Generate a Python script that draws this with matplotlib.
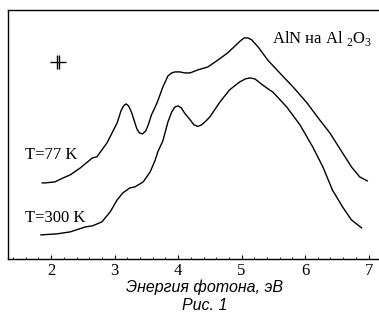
import numpy as np
import matplotlib.pyplot as plt

plt.rcParams["mathtext.fontset"] = "custom"
plt.rcParams["mathtext.rm"] = "Liberation Serif"

# спектры поглощения AlN на сапфире, отн. ед.
energy_77 = [1.86, 1.91, 2.06, 2.19, 2.30, 2.46, 2.65, 2.72, 2.88, 3.04, 3.10, 3.14,
             3.18, 3.22, 3.27, 3.31, 3.35, 3.39, 3.44, 3.49, 3.53, 3.58, 3.64, 3.68,
             3.76, 3.84, 3.90, 3.95, 4.03, 4.10, 4.19, 4.31, 4.47, 4.63, 4.78, 4.93,
             4.98, 5.04, 5.10, 5.16, 5.26, 5.41, 5.60, 5.81, 6.03, 6.23, 6.39, 6.54,
             6.73, 6.86, 6.98]
signal_77 = [7.6, 7.6, 7.7, 8.1, 8.4, 9.1, 10.1, 10.2, 11.6, 13.6, 14.8, 15.3,
             15.5, 15.3, 14.6, 13.8, 13.0, 12.6, 12.5, 12.8, 13.4, 14.4, 15.2, 15.8,
             17.2, 18.3, 18.6, 18.7, 18.7, 18.6, 18.6, 18.9, 19.2, 19.9, 20.6, 21.5,
             21.8, 22.1, 22.1, 21.9, 21.2, 19.9, 18.6, 17.2, 15.6, 13.9, 12.6, 11.1,
             9.2, 8.2, 7.8]

energy_300 = [1.84, 2.09, 2.30, 2.54, 2.65, 2.80, 2.93, 3.04, 3.13, 3.24, 3.32, 3.45,
              3.56, 3.64, 3.68, 3.76, 3.84, 3.90, 3.95, 4.00, 4.05, 4.10, 4.19, 4.25,
              4.31, 4.37, 4.44, 4.50, 4.66, 4.81, 4.97, 5.06, 5.13, 5.21, 5.33, 5.44,
              5.49, 5.71, 5.92, 6.12, 6.28, 6.43, 6.59, 6.73, 6.89]
signal_300 = [2.4, 2.5, 2.7, 3.2, 3.3, 3.7, 4.7, 5.9, 6.6, 7.1, 7.2, 7.7,
              8.7, 9.9, 10.7, 11.8, 13.7, 14.7, 15.2, 15.3, 15.1, 14.6, 13.9, 13.4,
              13.25, 13.4, 13.8, 14.2, 15.7, 16.9, 17.7, 18.0, 18.1, 18.0, 17.4, 16.9,
              16.7, 15.2, 13.4, 11.2, 9.2, 6.9, 5.2, 3.9, 3.1]

xticks = [2, 3, 4, 5, 6, 7]
mark_pos = (2.11, 19.7)  # значок погрешности

fig = plt.figure(figsize=(3.79, 3.2), dpi=100)
ax = fig.add_axes([0.021, 0.191, 0.985, 0.778])

ax.plot(energy_77, signal_77, color="black", lw=1.0)
ax.plot(energy_300, signal_300, color="black", lw=1.0)

# крестик погрешности
ax.plot([mark_pos[0]], [mark_pos[1]], marker="_", ms=12, mew=1.0, color="black")
ax.plot([mark_pos[0] - 0.015, mark_pos[0] + 0.015], [mark_pos[1]] * 2,
        ls="none", marker="|", ms=10, mew=1.0, color="black")

serif = "Liberation Serif"
ax.text(1.59, 10.4, "T=77 K", family=serif, fontsize=12, va="center")
ax.text(1.59, 4.1, "T=300 K", family=serif, fontsize=12, va="center")
ax.text(7.06, 21.6, r"AlN на Al $_{2}$O$_{3}$", family=serif, fontsize=12,
        ha="right", va="baseline")

ax.set_xlim(1.32, 7.16)
ax.set_ylim(0, 24.9)
ax.set_xticks(xticks)
ax.set_xticks(np.arange(1.4, 7.2, 0.2), minor=True)
ax.set_xticklabels([str(t) for t in xticks], family=serif, fontsize=12)
ax.set_yticks([])
ax.tick_params(axis="x", which="major", direction="in", length=3, width=0.8, pad=3)
ax.tick_params(axis="x", which="minor", direction="in", length=1.5, width=0.6)
ax.spines["right"].set_visible(False)
for s in ["left", "top", "bottom"]:
    ax.spines[s].set_linewidth(1.0)

# подписи под осью
fig.text(0.54, 1 - 287 / 320, "Энергия фотона, эВ", family="Liberation Sans",
         style="italic", fontsize=11.5, ha="center", va="center")
fig.text(0.54, 1 - 306 / 320, "Рис. 1", family="Liberation Sans", style="italic",
         fontsize=11.5, ha="center", va="center")

fig.savefig("out.png", dpi=100)
